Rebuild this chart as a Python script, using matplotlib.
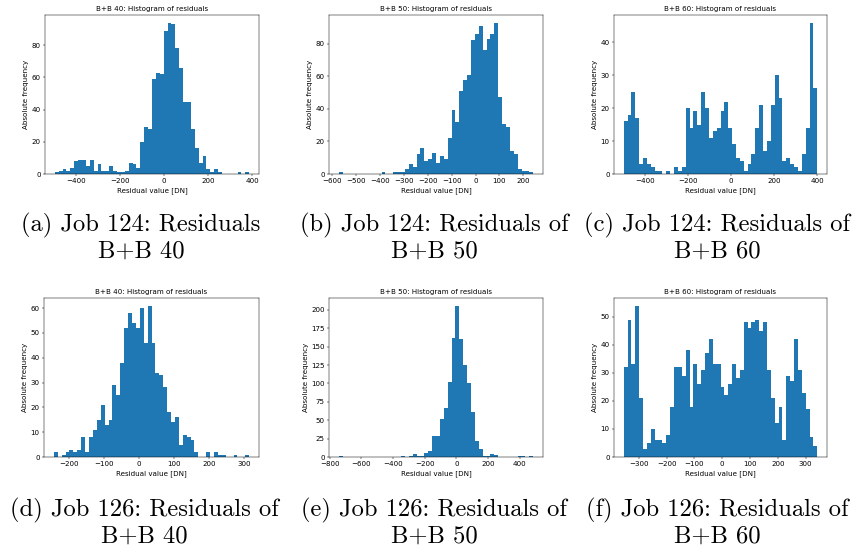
import numpy as np
import matplotlib
matplotlib.use("Agg")
import matplotlib.pyplot as plt

# counts per bin (50 bins each)
counts_a = [1, 2, 3, 2, 4, 8, 9, 9, 5, 9, 2, 6, 2, 2, 5, 2, 1, 1, 2, 7,
            6, 4, 20, 29, 28, 59, 63, 62, 89, 94, 93, 78, 66, 45, 45, 28, 16, 7, 11, 3,
            1, 3, 1, 0, 0, 0, 0, 1, 0, 1]
counts_b = [1, 0, 0, 0, 0, 0, 0, 0, 0, 0, 0, 1, 0, 0, 1, 1, 1, 3, 6, 4,
            12, 16, 8, 9, 13, 7, 11, 9, 22, 39, 32, 51, 58, 61, 82, 86, 91, 76, 83, 86,
            93, 47, 31, 29, 14, 12, 3, 2, 2, 1]
counts_c = [16, 18, 25, 17, 3, 5, 3, 2, 1, 1, 0, 1, 0, 2, 1, 2, 20, 14, 19, 15,
            25, 20, 11, 13, 14, 19, 22, 14, 9, 5, 4, 1, 3, 6, 14, 21, 7, 10, 21, 30,
            23, 4, 5, 3, 2, 1, 6, 14, 46, 26]
counts_d = [2, 0, 1, 2, 3, 2, 3, 8, 2, 8, 11, 15, 21, 13, 15, 29, 25, 38, 52, 58,
            54, 52, 60, 46, 61, 46, 34, 33, 28, 18, 14, 16, 5, 9, 8, 7, 2, 0, 0, 2,
            0, 2, 1, 1, 0, 0, 1, 0, 0, 1]
counts_e = [1, 0, 0, 0, 0, 0, 0, 0, 0, 0, 0, 0, 0, 0, 0, 0, 1, 0, 1, 4,
            1, 1, 6, 8, 28, 29, 52, 67, 102, 162, 206, 161, 125, 101, 61, 22, 11, 1, 2, 4,
            3, 0, 0, 0, 0, 0, 1, 1, 0, 1]
counts_f = [32, 49, 33, 54, 21, 3, 5, 10, 6, 6, 5, 8, 18, 32, 32, 29, 38, 18, 33, 26,
            31, 37, 42, 33, 33, 25, 22, 26, 33, 28, 31, 48, 46, 48, 49, 45, 48, 31, 21, 12,
            18, 6, 29, 27, 42, 31, 23, 17, 7, 4]

# residual range (min, max) of each histogram
ranges = [(-495, 387), (-573, 242), (-497, 400),
          (-243, 315), (-743, 485), (-354, 342)]

titles = ["B+B 40: Histogram of residuals", "B+B 50: Histogram of residuals",
          "B+B 60: Histogram of residuals"] * 2

captions = [("(a) Job 124: Residuals", "B+B 40"),
            ("(b) Job 124: Residuals of", "B+B 50"),
            ("(c) Job 124: Residuals of", "B+B 60"),
            ("(d) Job 126: Residuals of", "B+B 40"),
            ("(e) Job 126: Residuals of", "B+B 50"),
            ("(f) Job 126: Residuals of", "B+B 60")]

W, H = 857, 552
# axes boxes in pixels: left, right, top, bottom
boxes = [(45, 259, 15, 174), (329, 543, 15, 174), (614, 827, 15, 174),
         (44, 259, 298, 457), (329, 543, 298, 457), (614, 827, 298, 457)]
caption_x = [141, 434, 717, 144, 434, 717]
caption_y = [(225, 252)] * 3 + [(510, 537)] * 3

s = 0.445  # scale of the small embedded plots
fs = 5.1

fig = plt.figure(figsize=(W / 100, H / 100), dpi=100)
all_counts = [counts_a, counts_b, counts_c, counts_d, counts_e, counts_f]

for i, counts in enumerate(all_counts):
    l, r, t, b = boxes[i]
    ax = fig.add_axes([l / W, 1 - b / H, (r - l) / W, (b - t) / H])
    lo, hi = ranges[i]
    edges = np.linspace(lo, hi, len(counts) + 1)
    ax.hist(edges[:-1], bins=edges, weights=counts, color="#1f77b4")
    ax.set_title(titles[i], fontsize=fs, pad=6 * s)
    ax.set_xlabel("Residual value [DN]", fontsize=fs, labelpad=4 * s)
    ax.set_ylabel("Absolute frequency", fontsize=fs, labelpad=4 * s)
    ax.tick_params(labelsize=fs, length=3.5 * s, width=0.8 * s, pad=3.5 * s)
    for sp in ax.spines.values():
        sp.set_linewidth(0.8 * s)

    line1, line2 = captions[i]
    y1, y2 = caption_y[i]
    fig.text(caption_x[i] / W, 1 - y1 / H, line1, family="cmr10", fontsize=17.7,
             ha="center", va="center")
    fig.text(caption_x[i] / W, 1 - y2 / H, line2, family="cmr10", fontsize=17.7,
             ha="center", va="center")

fig.savefig("out.png", dpi=100)
